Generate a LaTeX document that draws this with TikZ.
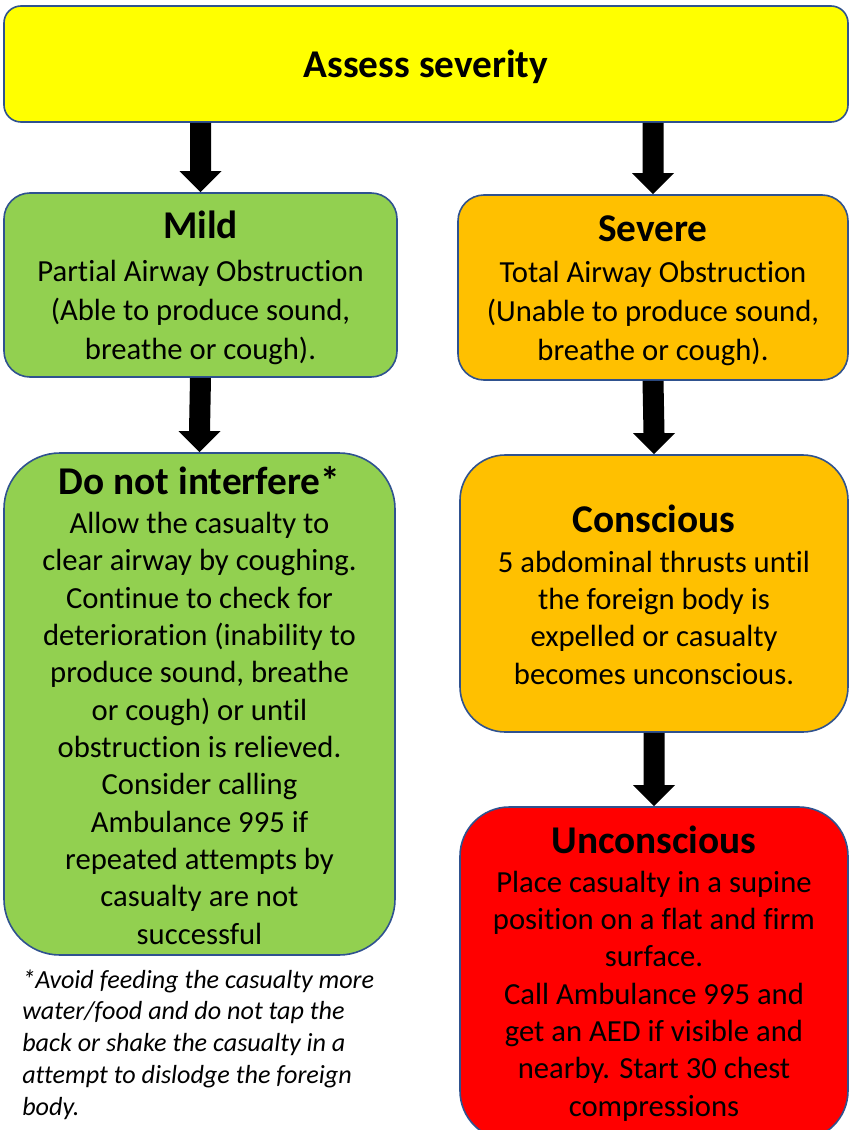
\documentclass[tikz,border=0pt]{standalone}
\usepackage{fontspec}
\setmainfont{Carlito}[Ligatures=NoCommon]
\usetikzlibrary{calc}

\definecolor{outline}{HTML}{2F528F}
\definecolor{assessyellow}{HTML}{FFFF00}
\definecolor{mildgreen}{HTML}{92D050}
\definecolor{severeamber}{HTML}{FFC000}
\definecolor{alertred}{HTML}{FF0000}

% block arrow from node anchor #1 down to node anchor #2 (units: px, y grows downward)
\newcommand\blockarrow[2]{%
  \fill[black]
    ($(#1)+(-10.5,0)$) -- ($(#2)+(-10.5,-21)$) -- ($(#2)+(-21,-21)$) --
    (#2) --
    ($(#2)+(21,-21)$) -- ($(#2)+(10.5,-21)$) -- ($(#1)+(10.5,0)$) -- cycle;}

% multi-line text nodes are placed by the baseline of their last line
\tikzset{
  box/.style={draw=outline, line width=1.2pt, inner sep=0pt},
  heading/.style={font=\fontsize{29.5}{34}\selectfont\bfseries, anchor=base, inner sep=0pt},
  bodytext/.style={font=\fontsize{23}{28}\selectfont, align=center, anchor=base, inner sep=0pt},
  widebody/.style={bodytext, font=\fontsize{23}{29}\selectfont},
  footnote/.style={font=\fontsize{19.6}{23.8}\selectfont\itshape, align=left, anchor=base west, inner sep=0pt}
}

\begin{document}
\begin{tikzpicture}[x=0.75pt, y=-0.75pt]
  \clip (0,0) rectangle (850,1130);
  \fill[white] (0,0) rectangle (850,1130);

  % boxes
  \node[box, fill=assessyellow, rounded corners=12.75pt,
        minimum width=633pt, minimum height=87pt] (assess) at (426,64) {};
  \node[box, fill=mildgreen, rounded corners=19.5pt,
        minimum width=294.75pt, minimum height=138pt] (mild) at (200.5,285) {};
  \node[box, fill=severeamber, rounded corners=19.5pt,
        minimum width=292.5pt, minimum height=138.75pt] (severe) at (653,287.5) {};
  \node[box, fill=mildgreen, rounded corners=42pt,
        minimum width=293.25pt, minimum height=376.5pt] (nointerfere) at (199.5,704) {};
  \node[box, fill=severeamber, rounded corners=34pt,
        minimum width=291pt, minimum height=207.75pt] (conscious) at (654,593.5) {};
  \node[box, fill=alertred, rounded corners=37pt,
        minimum width=291pt, minimum height=249.75pt] (unconscious) at (654,973.5) {};

  % texts
  \node[heading] (assesst) at (426,78) {Assess severity};

  \node[heading] (mildt) at (200.5,239) {Mild};
  \node[widebody] (mildb) at (200.5,359) {Partial Airway Obstruction\\(Able to produce sound,\\breathe or cough).};

  \node[heading] (severet) at (653,242) {Severe};
  \node[widebody] (severeb) at (653,360) {Total Airway Obstruction\\(Unable to produce sound,\\breathe or cough).};

  \node[heading] (nointerferet) at (199.5,494) {Do not interfere*};
  \node[bodytext] (nointerfereb) at (199.5,944) {Allow the casualty to\\clear airway by coughing.\\Continue to check for\\deterioration (inability to\\produce sound, breathe\\or cough) or until\\obstruction is relieved.\\Consider calling\\Ambulance 995 if\\repeated attempts by\\casualty are not\\successful};

  \node[heading] (conscioust) at (654,532) {Conscious};
  \node[bodytext] (consciousb) at (654,684) {5 abdominal thrusts until\\the foreign body is\\expelled or casualty\\becomes unconscious.};

  \node[heading] (unconscioust) at (654,853) {Unconscious};
  \node[bodytext] (unconsciousb) at (654,1116) {Place casualty in a supine\\position on a flat and firm\\surface.\\Call Ambulance 995 and\\get an AED if visible and\\nearby. Start 30 chest\\compressions};

  \node[footnote] (note) at (22,1115) {*Avoid feeding the casualty more\\water/food and do not tap the\\back or shake the casualty in a\\attempt to dislodge the foreign\\body.};

  % connectors
  \blockarrow{assess.south -| mild.north}{mild.north}
  \blockarrow{assess.south -| severe.north}{severe.north}
  \blockarrow{mild.south}{nointerfere.north}
  \blockarrow{severe.south}{conscious.north}
  \blockarrow{conscious.south}{unconscious.north}
\end{tikzpicture}
\end{document}
